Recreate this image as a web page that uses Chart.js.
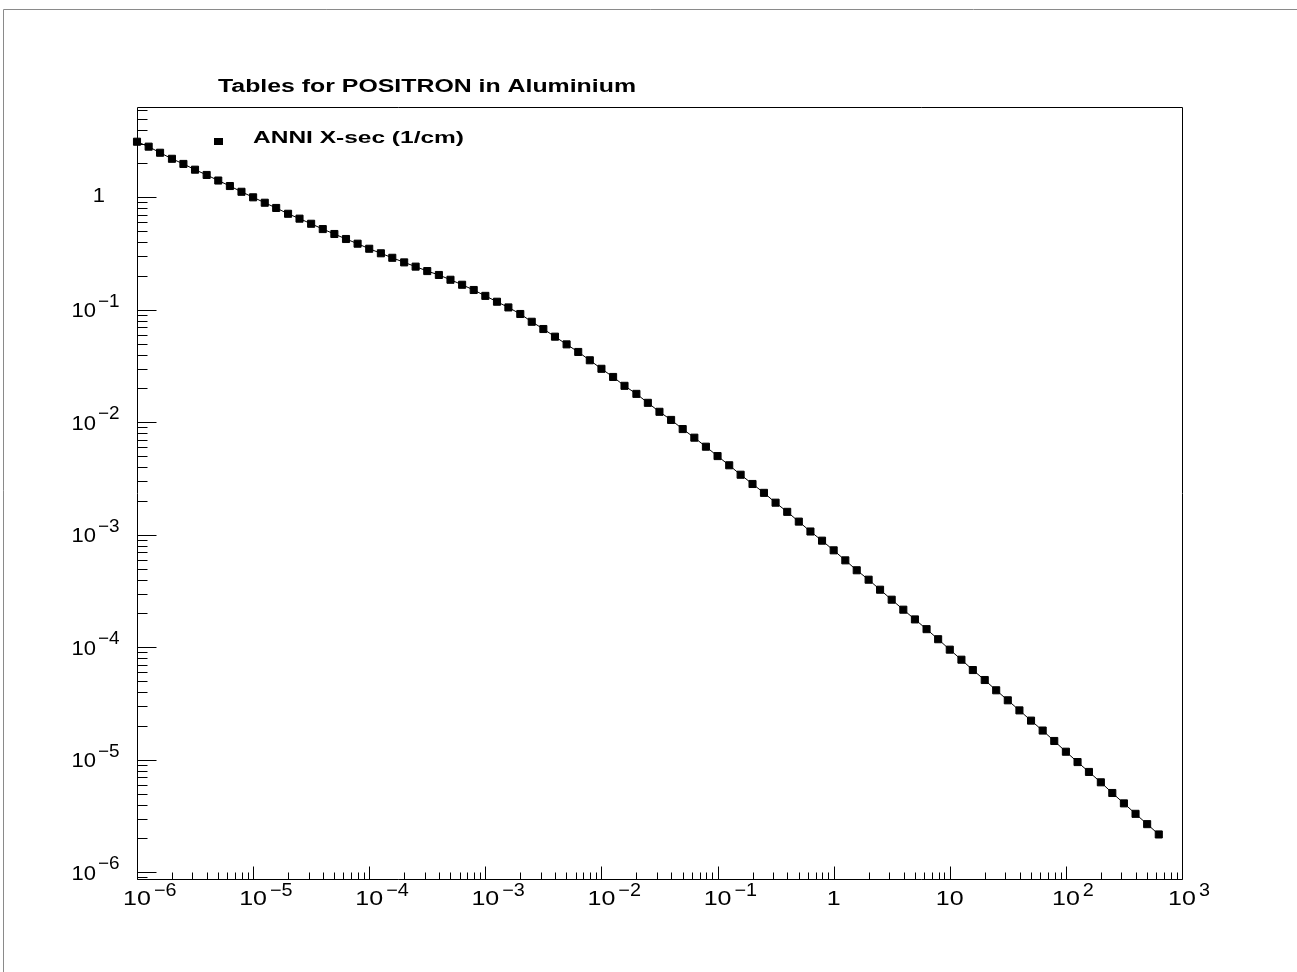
<!DOCTYPE html>
<html>
<head>
<meta charset="utf-8">
<script src="https://cdn.jsdelivr.net/npm/chart.js@4.4.1/dist/chart.umd.min.js"></script>
<style>
html, body { margin: 0; padding: 0; background: #fff; }
#wrap { width: 1297px; height: 972px; }
</style>
</head>
<body>
<div id="wrap"><canvas id="anniChart" width="1297" height="972"></canvas></div>
<script>
var title = "Tables for POSITRON in Aluminium";
var seriesLabel = "ANNI X-sec (1/cm)";

// kinetic energy (MeV), table bins
var energy = [
  1e-6, 1.26e-6, 1.58e-6, 2e-6, 2.51e-6, 3.16e-6, 3.98e-6, 5.01e-6, 6.31e-6, 7.94e-6,
  1e-5, 1.26e-5, 1.58e-5, 2e-5, 2.51e-5, 3.16e-5, 3.98e-5, 5.01e-5, 6.31e-5, 7.94e-5,
  1e-4, 1.26e-4, 1.58e-4, 2e-4, 2.51e-4, 3.16e-4, 3.98e-4, 5.01e-4, 6.31e-4, 7.94e-4,
  1e-3, 1.26e-3, 1.58e-3, 2e-3, 2.51e-3, 3.16e-3, 3.98e-3, 5.01e-3, 6.31e-3, 7.94e-3,
  1e-2, 1.26e-2, 1.58e-2, 2e-2, 2.51e-2, 3.16e-2, 3.98e-2, 5.01e-2, 6.31e-2, 7.94e-2,
  0.1, 0.126, 0.158, 0.2, 0.251, 0.316, 0.398, 0.501, 0.631, 0.794,
  1, 1.26, 1.58, 2, 2.51, 3.16, 3.98, 5.01, 6.31, 7.94,
  10, 12.6, 15.8, 20, 25.1, 31.6, 39.8, 50.1, 63.1, 79.4,
  100, 126, 158, 200, 251, 316, 398, 501, 631
];

// annihilation cross section (1/cm)
var xsec = [
  3.12, 2.82, 2.49, 2.20, 1.98, 1.76, 1.58, 1.41, 1.26, 1.12,
  1.00, 0.895, 0.804, 0.714, 0.646, 0.582, 0.522, 0.472, 0.426, 0.387,
  0.349, 0.318, 0.290, 0.264, 0.242, 0.221, 0.204, 0.185, 0.167, 0.150,
  0.133, 0.118, 0.105, 0.0918, 0.0783, 0.0675, 0.0577, 0.0493, 0.0422, 0.0356,
  0.0299, 0.0253, 0.0211, 0.0179, 0.0149, 0.0124, 0.0105, 0.00871, 0.00730, 0.00607,
  0.00501, 0.00415, 0.00342, 0.00283, 0.00236, 0.00193, 0.00160, 0.00131, 0.00107, 8.87e-4,
  7.28e-4, 5.93e-4, 4.84e-4, 3.99e-4, 3.25e-4, 2.65e-4, 2.16e-4, 1.77e-4, 1.45e-4, 1.18e-4,
  9.53e-5, 7.76e-5, 6.28e-5, 5.12e-5, 4.15e-5, 3.38e-5, 2.75e-5, 2.23e-5, 1.82e-5, 1.47e-5,
  1.18e-5, 9.55e-6, 7.80e-6, 6.31e-6, 5.07e-6, 4.10e-6, 3.31e-6, 2.68e-6, 2.17e-6
];

// axis labels: [base, exponent]
var xTickValues = [1e-6, 1e-5, 1e-4, 1e-3, 1e-2, 1e-1, 1, 10, 100, 1000];
var xTickLabels = [["10","\u22126"],["10","\u22125"],["10","\u22124"],["10","\u22123"],["10","\u22122"],
                   ["10","\u22121"],["1",""],["10",""],["10","2"],["10","3"]];
var yTickValues = [1, 1e-1, 1e-2, 1e-3, 1e-4, 1e-5, 1e-6];
var yTickLabels = [["1",""],["10","\u22121"],["10","\u22122"],["10","\u22123"],["10","\u22124"],
                   ["10","\u22125"],["10","\u22126"]];

var points = energy.map(function (e, i) { return { x: e, y: xsec[i] }; });

function minorTicks(lo, hi) {
  var out = [];
  for (var d = Math.floor(Math.log10(lo)) - 1; d <= Math.ceil(Math.log10(hi)); d++) {
    for (var m = 1; m <= 9; m++) {
      var v = m * Math.pow(10, d);
      if (v >= lo * 0.9999 && v <= hi * 1.0001) out.push({ v: v, major: m === 1 });
    }
  }
  return out;
}

// text stretched sideways, like the ROOT fonts
function wideText(ctx, txt, x, y, sx, align) {
  var w = ctx.measureText(txt).width * sx;
  var x0 = align === 'center' ? x - w / 2 : (align === 'right' ? x - w : x);
  ctx.save();
  ctx.textAlign = 'left';
  ctx.translate(x0, y);
  ctx.scale(sx, 1);
  ctx.fillText(txt, 0, 0);
  ctx.restore();
  return w;
}

// ROOT-like frame, ticks, labels, title and legend
var rootFrame = {
  id: 'rootFrame',
  afterDraw: function (chart) {
    var ctx = chart.ctx, a = chart.chartArea;
    var xs = chart.scales.x, ys = chart.scales.y;
    var L = Math.round(a.left) + 0.5, R = Math.round(a.right) + 0.5;
    var T = Math.round(a.top) + 0.5, B = Math.round(a.bottom) + 0.5;
    ctx.save();

    // pad border
    ctx.strokeStyle = '#8a8a8a';
    ctx.lineWidth = 1;
    ctx.beginPath();
    ctx.moveTo(3.5, 972); ctx.lineTo(3.5, 9.5); ctx.lineTo(1297, 9.5);
    ctx.stroke();

    // frame
    ctx.strokeStyle = '#000';
    ctx.beginPath();
    ctx.rect(L, T, R - L, B - T);
    ctx.stroke();

    // ticks
    ctx.beginPath();
    minorTicks(xs.min, xs.max).forEach(function (t) {
      var px = Math.round(xs.getPixelForValue(t.v)) + 0.5;
      ctx.moveTo(px, B); ctx.lineTo(px, B - (t.major ? 13 : 7));
    });
    minorTicks(ys.min, ys.max).forEach(function (t) {
      var py = Math.round(ys.getPixelForValue(t.v)) + 0.5;
      ctx.moveTo(L, py); ctx.lineTo(L + (t.major ? 19 : 10), py);
    });
    ctx.stroke();

    // tick labels
    ctx.fillStyle = '#000';
    ctx.textBaseline = 'middle';
    xTickValues.forEach(function (v, i) {
      var px = xs.getPixelForValue(v);
      var base = xTickLabels[i][0], ex = xTickLabels[i][1];
      ctx.font = '20px "Liberation Sans"';
      var w = wideText(ctx, base, px, 899, 1.25, 'center');
      if (ex) {
        ctx.font = '18px "Liberation Sans"';
        wideText(ctx, ex, px + w / 2 + 3, 891, 1.1, 'left');
      }
    });
    yTickValues.forEach(function (v, i) {
      var py = ys.getPixelForValue(v);
      var base = yTickLabels[i][0], ex = yTickLabels[i][1];
      ctx.font = '20px "Liberation Sans"';
      if (!ex) {
        wideText(ctx, base, 105, py - 1, 1.1, 'right');
      } else {
        wideText(ctx, base, 96, py + 2, 1.1, 'right');
        ctx.font = '18px "Liberation Sans"';
        wideText(ctx, ex, 98, py - 8, 1.05, 'left');
      }
    });

    // title
    ctx.textBaseline = 'alphabetic';
    ctx.font = 'bold 18px "Liberation Sans"';
    var tw = ctx.measureText(title).width;
    wideText(ctx, title, 218, 92, 418 / tw, 'left');

    // legend
    ctx.fillRect(214, 138, 9, 7);
    ctx.font = 'bold 17px "Liberation Sans"';
    var lw = ctx.measureText(seriesLabel).width;
    wideText(ctx, seriesLabel, 253, 143, 211 / lw, 'left');

    ctx.restore();
  }
};

var config = {
  type: 'line',
  data: {
    datasets: [{
      label: seriesLabel,
      data: points,
      borderColor: '#000',
      borderWidth: 1,
      backgroundColor: '#000',
      pointStyle: 'rect',
      pointRadius: 5,
      pointBorderWidth: 1,
      pointBackgroundColor: '#000',
      pointBorderColor: '#000',
      tension: 0,
      clip: false
    }]
  },
  options: {
    responsive: false,
    animation: false,
    events: [],
    layout: { padding: { left: 137, top: 107, right: 115, bottom: 93 } },
    scales: {
      x: { type: 'logarithmic', min: 1e-6, max: 1e3, display: false },
      y: { type: 'logarithmic', min: 8.72e-7, max: 6.35, display: false }
    },
    plugins: {
      legend: { display: false },
      tooltip: { enabled: false },
      title: { display: false }
    }
  },
  plugins: [rootFrame]
};

var anniChart = new Chart(document.getElementById('anniChart'), config);
</script>
</body>
</html>
